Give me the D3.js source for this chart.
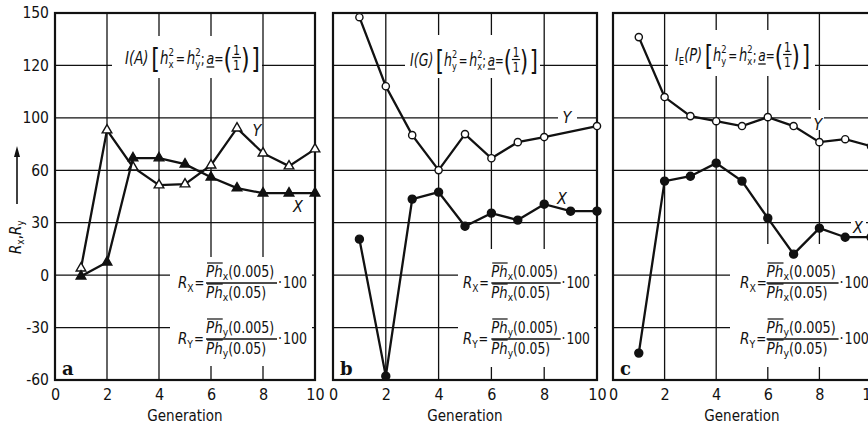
<!DOCTYPE html>
<html><head><meta charset="utf-8">
<script src="https://cdn.jsdelivr.net/npm/d3@7"></script>
<style>
body{margin:0;background:#fff}
text{font-family:"DejaVu Sans Condensed","Liberation Sans Narrow","DejaVu Sans",sans-serif;fill:#111}
</style></head><body>
<svg id="c" width="868" height="429"></svg>
<script>
// ---------- data ----------
const generations = [1,2,3,4,5,6,7,8,9,10];
const yTickValues = [-60,-30,0,30,60,90,120,150];
const yTickLabels = ["-60","-30","0","30","60","100","120","150"];
const xTickValues = [0,2,4,6,8,10];
// panel a: I(A)
const panelA_Y = [4.0, 83.0, 61.8, 51.5, 52.1, 62.9, 84.1, 69.8, 62.4, 72.1];
const panelA_X = [-0.6, 7.4, 67.0, 67.0, 63.5, 56.0, 49.8, 46.9, 46.9, 46.9];
// panel b: I(G)
const panelB_Y = [147.6, 108.1, 80.1, 60.1, 80.7, 66.9, 76.1, 79.0, null, 85.3];
const panelB_X = [20.6, -57.8, 43.5, 47.5, 28.0, 35.5, 31.5, 40.6, 36.6, 36.6];
// panel c: I_E(P)
const panelC_Y = [136.2, 101.9, 91.0, 88.1, 85.3, 90.4, 85.3, 76.1, 77.8, 73.8];
const panelC_X = [-44.6, 53.8, 56.6, 64.1, 53.8, 32.6, 12.0, 26.9, 21.7, 21.7];
const panelLetters = ["a","b","c"];
const titleHeads = ["(A)","(G)","(P)"];
const titleHeadSubs = [null, null, "E"];
const titleSubs = [["x","y"],["y","x"],["y","x"]];
const seriesNames = ["Y","X"];

// ---------- layout ----------
const svg = d3.select('#c');
const y = d3.scaleLinear().domain([-60,150]).range([380,13]);
const layout = [
  {x0:55, x1:315, titleX:125, titleEnd:260, titleY:64, tbox:[112,36,262,78], fbox:[170,257,312,366], fx:178, fracX:208, fEnd:307, sym:'tri',
   lY:[257,136], lX:[298,212], lYbox:null, lXbox:null},
  {x0:333, x1:597, titleX:410, titleEnd:538, titleY:66, tbox:[405,35,540,78], fbox:[458,249,594,367], fx:463, fracX:494, fEnd:590, sym:'circ',
   lY:[567,123], lX:[562,204], lYbox:[558,108,577,128], lXbox:null},
  {x0:613, x1:871, titleX:675, titleEnd:810, titleY:61, tbox:[668,30,815,76], fbox:[730,244,868,367], fx:740, fracX:768, fEnd:869, sym:'circ',
   lY:[818,130], lX:[858,233], lYbox:[811,110,824,130], lXbox:[851,215,866,232]}
];
const seriesY = [panelA_Y, panelB_Y, panelC_Y];
const seriesX = [panelA_X, panelB_X, panelC_X];

function txt(g, x, yb, s, o = {}) {
  const t = g.append('text').attr('x', x).attr('y', yb).attr('font-size', o.fs || 15).text(s);
  if (o.it) t.attr('font-style', 'italic');
  if (o.w) t.attr('font-weight', o.w);
  if (o.fam) t.style('font-family', o.fam);
  return t.node().getComputedTextLength();
}
function fitWidth(g, x, end) {
  const bb = g.node().getBBox();
  const sx = (end - x) / (bb.x + bb.width - x);
  g.attr('transform', `translate(${x},0) scale(${sx},1) translate(${-x},0)`);
}
function hterm(g, x, yb, sub) {
  let w = txt(g, x, yb, 'h', {it:true, fs:17});
  const x2 = x + w;
  const w1 = txt(g, x2, yb - 8, '2', {fs:11});
  const w2 = txt(g, x2, yb + 4, sub, {fs:11});
  return x2 + Math.max(w1, w2);
}
function title(g0, x, yb, i, end) {
  const g = g0.append('g');
  let cx = x;
  cx += txt(g, cx, yb, 'I', {it:true, fs:17});
  if (titleHeadSubs[i]) cx += txt(g, cx, yb + 4, titleHeadSubs[i], {fs:11});
  cx += txt(g, cx, yb, titleHeads[i], {it:true, fs:17});
  cx += 3;
  cx += txt(g, cx, yb + 5, '[', {fs:28, w:300});
  cx = hterm(g, cx, yb, titleSubs[i][0]);
  cx += 2; cx += txt(g, cx, yb, '=', {fs:14}); cx += 2;
  cx = hterm(g, cx, yb, titleSubs[i][1]);
  cx += txt(g, cx, yb, ';', {fs:15}); cx += 2;
  const aw = txt(g, cx, yb, 'a', {it:true, fs:16});
  g.append('line').attr('x1', cx).attr('x2', cx + aw).attr('y1', yb + 3).attr('y2', yb + 3).attr('stroke', '#111').attr('stroke-width', 1.3);
  cx += aw;
  cx += txt(g, cx, yb, '=', {fs:14});
  cx += txt(g, cx, yb + 5, '(', {fs:28, w:300});
  const fw = txt(g, cx + 1, yb - 9, '1', {fs:14});
  txt(g, cx + 1, yb + 6, '1', {fs:14});
  g.append('line').attr('x1', cx).attr('x2', cx + fw + 2).attr('y1', yb - 6.5).attr('y2', yb - 6.5).attr('stroke', '#111').attr('stroke-width', 1.2);
  cx += fw + 2;
  cx += txt(g, cx, yb + 5, ')', {fs:28, w:300});
  cx += 2;
  txt(g, cx, yb + 5, ']', {fs:28, w:300});
  fitWidth(g, x, end);
}
function phterm(g, x, yb, sub, arg) {
  const pw = txt(g, x, yb, 'Ph', {it:true, fs:16});
  g.append('line').attr('x1', x + 1).attr('x2', x + pw).attr('y1', yb - 14).attr('y2', yb - 14).attr('stroke', '#111').attr('stroke-width', 1.2);
  let cx = x + pw;
  cx += txt(g, cx, yb + 3, sub, {fs:11});
  cx += txt(g, cx, yb, arg, {fs:15});
  return cx - x;
}
function formula(g0, x, fx, bar, capSub, sub, end) {
  const g = g0.append('g');
  let cx = x;
  cx += txt(g, cx, bar + 5, 'R', {it:true, fs:16});
  cx += txt(g, cx, bar + 9, capSub, {fs:11});
  txt(g, cx + 1, bar + 5, '=', {fs:14});
  const nw = phterm(g, fx, bar - 6, sub, '(0.005)');
  phterm(g, fx, bar + 15, sub, '(0.05)');
  g.append('line').attr('x1', fx).attr('x2', fx + nw + 3).attr('y1', bar).attr('y2', bar).attr('stroke', '#111').attr('stroke-width', 1.4);
  let ex = fx + nw + 4;
  ex += txt(g, ex, bar + 5, '·', {fs:15});
  txt(g, ex + 1, bar + 5, '100', {fs:15});
  fitWidth(g, x, end);
}

layout.forEach((L, i) => {
  const x = d3.scaleLinear().domain([0,10]).range([L.x0, L.x1]);
  const g = svg.append('g');
  // grid
  g.selectAll('line.hg').data(yTickValues.slice(1, -1)).join('line').attr('class','hg')
    .attr('x1', x(0)).attr('x2', x(10)).attr('y1', d => y(d)).attr('y2', d => y(d))
    .attr('stroke', '#111').attr('stroke-width', 1.3);
  g.selectAll('line.vg').data(xTickValues.slice(1, -1)).join('line').attr('class','vg')
    .attr('x1', d => x(d)).attr('x2', d => x(d)).attr('y1', y(150)).attr('y2', y(-60))
    .attr('stroke', '#111').attr('stroke-width', 1.3);
  // white boxes behind annotations
  [L.tbox, L.fbox, L.lYbox, L.lXbox].filter(b => b).forEach(b => {
    g.append('rect').attr('x', b[0]).attr('y', b[1]).attr('width', b[2] - b[0]).attr('height', b[3] - b[1]).attr('fill', '#fff');
  });
  // frame
  g.append('rect').attr('x', x(0)).attr('y', y(150)).attr('width', x(10) - x(0)).attr('height', y(-60) - y(150))
    .attr('fill', 'none').attr('stroke', '#111').attr('stroke-width', 2.2);
  // axes
  const xa = d3.axisBottom(x).tickValues(xTickValues).tickSize(0).tickPadding(9).tickFormat(d3.format('d'));
  const xg = g.append('g').attr('transform', `translate(0,${y(-60)})`).call(xa);
  xg.select('.domain').remove();
  xg.selectAll('text').attr('font-size', 16);
  if (i === 0) {
    const ya = d3.axisLeft(y).tickValues(yTickValues).tickSize(0).tickPadding(6).tickFormat((d, k) => yTickLabels[k]);
    const yg = g.append('g').attr('transform', `translate(${x(0)},0)`).call(ya);
    yg.select('.domain').remove();
    yg.selectAll('text').attr('font-size', 15.5);
  }
  g.append('text').attr('x', (x(0) + x(10)) / 2).attr('y', 421).attr('text-anchor', 'middle').attr('font-size', 15).text('Generation');
  // titles & formulas
  title(g, L.titleX, L.titleY, i, L.titleEnd);
  formula(g, L.fx, L.fracX, 283, 'X', 'x', L.fEnd);
  formula(g, L.fx, L.fracX, 339, 'Y', 'y', L.fEnd);
  // panel letter
  g.append('text').attr('x', x(0) + 7).attr('y', 375).attr('font-size', 18).attr('font-weight', 'bold')
    .style('font-family', '"DejaVu Serif","Liberation Serif",serif').text(panelLetters[i]);
  // series
  const line = d3.line().x(d => x(d[0])).y(d => y(d[1]));
  [seriesY[i], seriesX[i]].forEach((vals, s) => {
    const pts = generations.map((gen, k) => [gen, vals[k]]).filter(d => d[1] != null);
    g.append('path').attr('d', line(pts)).attr('fill', 'none').attr('stroke', '#111').attr('stroke-width', 2.3);
    const filled = s === 1;
    if (L.sym === 'tri') {
      g.selectAll(null).data(pts).join('path')
        .attr('transform', d => `translate(${x(d[0])},${y(d[1])})`)
        .attr('d', d3.symbol(d3.symbolTriangle, 40)())
        .attr('fill', filled ? '#111' : '#fff').attr('stroke', '#111').attr('stroke-width', 1.4);
    } else {
      g.selectAll(null).data(pts).join('circle')
        .attr('cx', d => x(d[0])).attr('cy', d => y(d[1])).attr('r', filled ? 4 : 3.6)
        .attr('fill', filled ? '#111' : '#fff').attr('stroke', '#111').attr('stroke-width', 1.4);
    }
  });
  // series labels
  g.append('text').attr('x', L.lY[0]).attr('y', L.lY[1]).attr('text-anchor', 'middle').attr('font-size', 16).attr('font-style', 'italic').text(seriesNames[0]);
  g.append('text').attr('x', L.lX[0]).attr('y', L.lX[1]).attr('text-anchor', 'middle').attr('font-size', 16).attr('font-style', 'italic').text(seriesNames[1]);
});

// y-axis label with arrow
const yl = svg.append('g').attr('transform', 'translate(21,254) rotate(-90)');
let cx = 0;
cx += txt(yl, cx, 0, 'R', {it:true, fs:15});
cx += txt(yl, cx, 3, 'x', {fs:10});
cx += txt(yl, cx, 0, ' ,', {fs:15});
cx += txt(yl, cx, 0, 'R', {it:true, fs:15});
cx += txt(yl, cx, 3, 'y', {fs:10});
svg.append('line').attr('x1', 17).attr('x2', 17).attr('y1', 204).attr('y2', 154).attr('stroke', '#111').attr('stroke-width', 1.6);
svg.append('path').attr('d', 'M17,146 L14,157 L20,157 Z').attr('fill', '#111');
</script>
</body></html>
